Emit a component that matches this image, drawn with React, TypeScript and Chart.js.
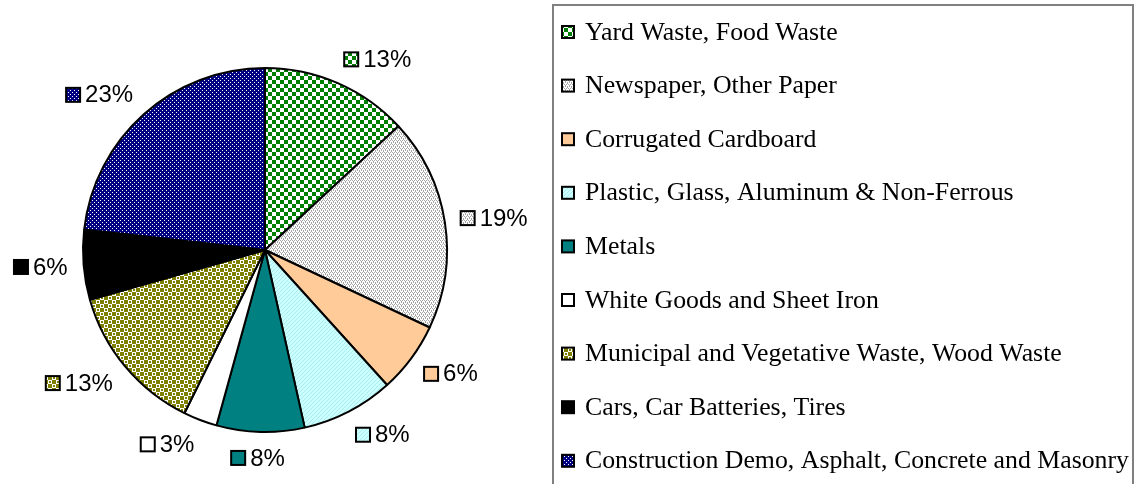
import React, { useEffect, useRef } from "react";
import { Chart, registerables } from "chart.js";

Chart.register(...registerables);

const categories = [
  "Yard Waste, Food Waste",
  "Newspaper, Other Paper",
  "Corrugated Cardboard",
  "Plastic, Glass, Aluminum & Non-Ferrous",
  "Metals",
  "White Goods and Sheet Iron",
  "Municipal and Vegetative Waste, Wood Waste",
  "Cars, Car Batteries, Tires",
  "Construction Demo, Asphalt, Concrete and Masonry",
];
const shares = [13.1, 18.9, 6.3, 8.2, 7.8, 3.0, 13.3, 6.2, 23.2];
const percentLabels = ["13%", "19%", "6%", "8%", "8%", "3%", "13%", "6%", "23%"];

type Tile = { size: number; base: string; ink: string; cells: [number, number, number, number][] };

const tiles: Tile[] = [
  { size: 8, base: "#ffffff", ink: "#008000", cells: [[0, 0, 4, 4], [4, 4, 4, 4]] },
  { size: 4, base: "#ffffff", ink: "#a6a6a6", cells: [[0, 0, 1, 1], [2, 0, 1, 1], [1, 2, 1, 1], [3, 2, 1, 1], [1, 1, 1, 1], [3, 3, 1, 1]] },
  { size: 4, base: "#ffcc99", ink: "#ffcc99", cells: [] },
  { size: 4, base: "#ccffff", ink: "#a9ecec", cells: [[3, 0, 1, 1], [2, 1, 1, 1], [1, 2, 1, 1], [0, 3, 1, 1]] },
  { size: 4, base: "#008080", ink: "#008080", cells: [] },
  { size: 4, base: "#ffffff", ink: "#ffffff", cells: [] },
  { size: 8, base: "#ffffff", ink: "#808000", cells: [[0, 0, 4, 4], [4, 4, 4, 4], [5, 1, 2, 2], [1, 5, 2, 2]] },
  { size: 4, base: "#000000", ink: "#000000", cells: [] },
  { size: 4, base: "#000080", ink: "#ffffff", cells: [[0, 0, 1, 1], [2, 2, 1, 1]] },
];

function makePattern(t: Tile): CanvasPattern | string {
  const c = document.createElement("canvas");
  c.width = t.size;
  c.height = t.size;
  const g = c.getContext("2d")!;
  g.fillStyle = t.base;
  g.fillRect(0, 0, t.size, t.size);
  g.fillStyle = t.ink;
  for (const [x, y, w, h] of t.cells) g.fillRect(x, y, w, h);
  const p = g.createPattern(c, "repeat");
  return p || t.base;
}

const LABEL_FONT = '24px "Liberation Sans", Arial, sans-serif';
const LEGEND_FONT = '25px "Liberation Serif", "Times New Roman", serif';

export default function App() {
  const ref = useRef<HTMLCanvasElement>(null);
  useEffect(() => {
    const fills = tiles.map(makePattern);

    const drawSwatch = (ctx: CanvasRenderingContext2D, x: number, y: number, s: number, i: number) => {
      ctx.save();
      ctx.fillStyle = fills[i] as any;
      ctx.fillRect(x, y, s, s);
      ctx.lineWidth = 2;
      ctx.strokeStyle = "#000";
      ctx.strokeRect(x, y, s, s);
      ctx.restore();
    };

    const extras = {
      id: "extras",
      afterDraw(chart: any) {
        const ctx: CanvasRenderingContext2D = chart.ctx;
        const meta = chart.getDatasetMeta(0);
        // data labels
        ctx.save();
        ctx.font = LABEL_FONT;
        ctx.textBaseline = "middle";
        meta.data.forEach((arc: any, i: number) => {
          const { x, y, startAngle, endAngle, outerRadius } = arc.getProps(
            ["x", "y", "startAngle", "endAngle", "outerRadius"],
            true
          );
          const mid = (startAngle + endAngle) / 2;
          const cs = Math.cos(mid);
          const sn = Math.sin(mid);
          const txt = percentLabels[i];
          const tw = ctx.measureText(txt).width;
          const sw = 14;
          const gap = 5;
          const w = sw + gap + tw;
          const h = 20;
          const r = outerRadius + 16;
          const f = Math.max(-1, Math.min(1, cs * 3));
          const cx = x + cs * r + (w / 2) * f;
          const cy = y + sn * r + (h / 2) * sn;
          const left = cx - w / 2;
          drawSwatch(ctx, left, cy - sw / 2, sw, i);
          ctx.fillStyle = "#000";
          ctx.textAlign = "left";
          ctx.fillText(txt, left + sw + gap, cy + 1);
        });
        ctx.restore();

        // legend
        ctx.save();
        const bx = 553, by = 5, bw = 580, bh = 500;
        ctx.strokeStyle = "#808080";
        ctx.lineWidth = 2;
        ctx.strokeRect(bx, by, bw, bh);
        ctx.font = LEGEND_FONT;
        ctx.textBaseline = "middle";
        ctx.fillStyle = "#000";
        const longest = Math.max(...categories.map((c) => ctx.measureText(c).width));
        const sx = 544 / longest;
        categories.forEach((c, i) => {
          const yy = 32 + i * 53.6;
          drawSwatch(ctx, 562, yy - 6, 12, i);
          ctx.save();
          ctx.translate(585, yy + 1);
          ctx.scale(sx, 1);
          ctx.fillStyle = "#000";
          ctx.fillText(c, 0, 0);
          ctx.restore();
        });
        ctx.restore();
      },
    };

    const chart = new Chart(ref.current!, {
      type: "pie",
      data: {
        labels: categories,
        datasets: [
          {
            data: shares,
            backgroundColor: fills as any,
            borderColor: "#000000",
            borderWidth: 2,
            borderAlign: "center",
          },
        ],
      },
      options: {
        animation: false,
        responsive: true,
        maintainAspectRatio: false,
        layout: { padding: { left: 82, top: 67, right: 688, bottom: 51 } },
        plugins: {
          legend: { display: false },
          tooltip: { enabled: false },
        },
      },
      plugins: [extras],
    });
    return () => chart.destroy();
  }, []);

  return (
    <div style={{ position: "fixed", left: 0, top: 0, width: 1136, height: 484, background: "#fff" }}>
      <canvas ref={ref} />
    </div>
  );
}
